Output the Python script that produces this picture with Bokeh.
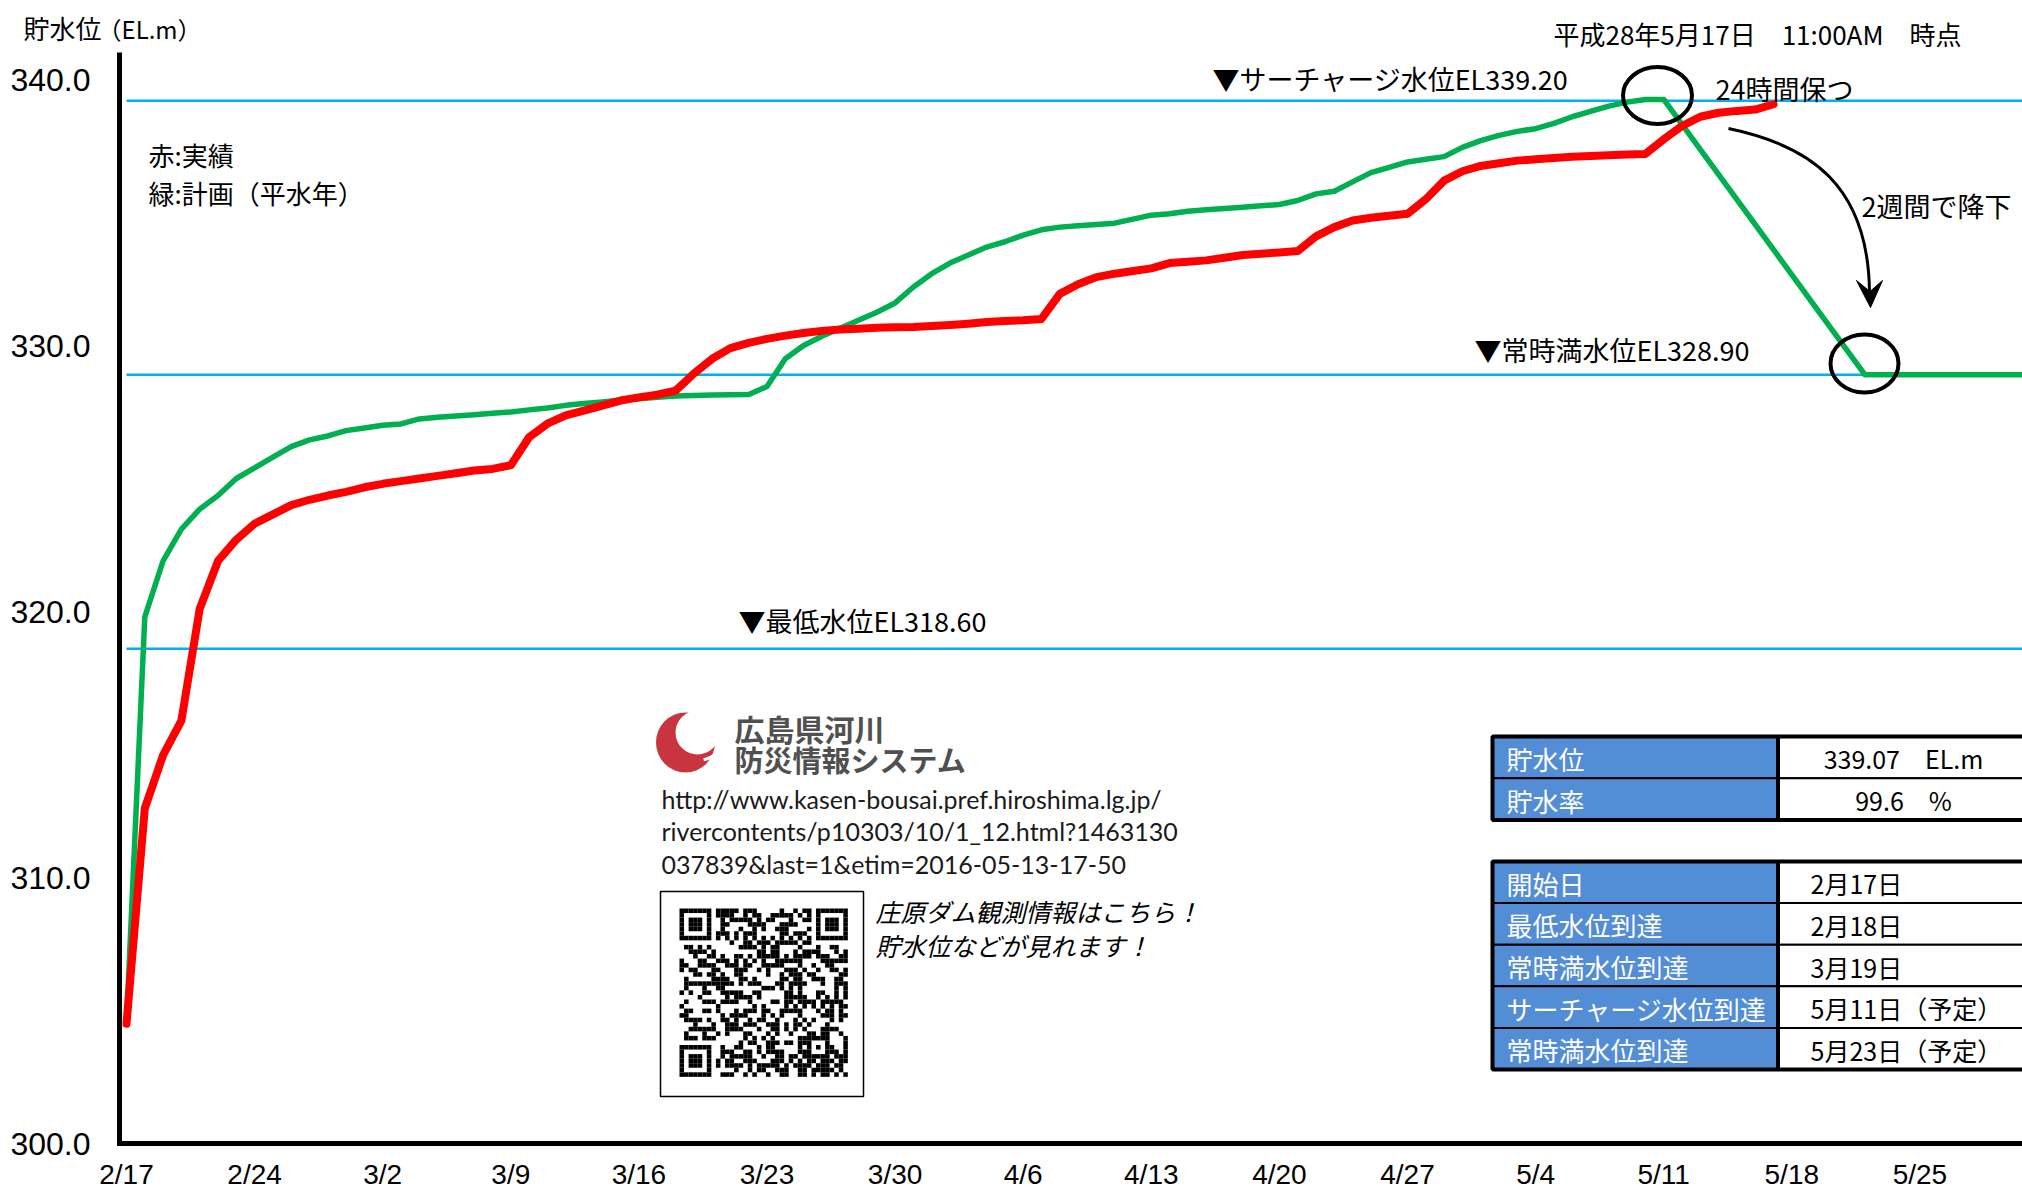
import hashlib
from bokeh.plotting import figure
from bokeh.models import Range1d, Label
from bokeh.core.properties import value
from bokeh.embed import file_html
from bokeh.resources import INLINE

# ---------------- data ----------------
tick_days = [0, 7, 14, 21, 28, 35, 42, 49, 56, 63, 70, 77, 84, 91, 98]
tick_labels = ["2/17", "2/24", "3/2", "3/9", "3/16", "3/23", "3/30", "4/6",
               "4/13", "4/20", "4/27", "5/4", "5/11", "5/18", "5/25"]
y_ticks = [300, 310, 320, 330, 340]
y_tick_labels = ["300.0", "310.0", "320.0", "330.0", "340.0"]

# planned (green) water level, days since 2/17
plan_days = list(range(0, 85)) + [95, 104]
plan_level = [304.5, 319.8, 321.9, 323.1, 323.85, 324.36, 325.0, 325.4, 325.8, 326.2,
              326.45, 326.6, 326.8, 326.9, 327.0, 327.05, 327.24, 327.3, 327.35, 327.4,
              327.45, 327.5, 327.58, 327.65, 327.75, 327.82, 327.88, 327.95, 328.0, 328.05,
              328.1, 328.12, 328.14, 328.15, 328.16, 328.46, 329.5, 330.0, 330.35, 330.65,
              330.95, 331.25, 331.6, 332.2, 332.7, 333.1, 333.4, 333.7, 333.9, 334.15,
              334.35, 334.45, 334.5, 334.55, 334.6, 334.75, 334.9, 334.95, 335.05, 335.1,
              335.15, 335.2, 335.25, 335.3, 335.45, 335.7, 335.8, 336.15, 336.5, 336.7,
              336.9, 337.0, 337.1, 337.45, 337.7, 337.9, 338.05, 338.15, 338.35, 338.6,
              338.8, 339.0, 339.15, 339.25, 339.25,
              328.9, 328.9]

# actual (red) water level
actual_days = list(range(0, 91))
actual_level = [304.5, 312.6, 314.6, 315.9, 320.1, 321.9, 322.7, 323.3, 323.65, 324.0,
                324.2, 324.36, 324.5, 324.67, 324.8, 324.9, 325.0, 325.1, 325.2, 325.3,
                325.36, 325.5, 326.55, 327.06, 327.37, 327.55, 327.74, 327.93, 328.05, 328.15,
                328.3, 328.94, 329.5, 329.9, 330.1, 330.25, 330.37, 330.47, 330.55, 330.6,
                330.63, 330.67, 330.69, 330.7, 330.73, 330.77, 330.82, 330.88, 330.92, 330.95,
                331.0, 331.94, 332.3, 332.57, 332.7, 332.8, 332.9, 333.1, 333.15, 333.2,
                333.3, 333.4, 333.45, 333.5, 333.55, 334.1, 334.45, 334.7, 334.8, 334.88,
                334.95, 335.5, 336.2, 336.55, 336.75, 336.85, 336.95, 337.0, 337.05, 337.1,
                337.12, 337.15, 337.18, 337.2, 337.75, 338.25, 338.6, 338.75, 338.82, 338.87,
                339.07]

ref_levels = [339.20, 328.90, 318.60]
ref_names = ["▼サーチャージ水位EL339.20", "▼常時満水位EL328.90", "▼最低水位EL318.60"]

table1_labels = ["貯水位", "貯水率"]
table1_values = ["339.07　EL.m", "99.6　%"]
table2_labels = ["開始日", "最低水位到達", "常時満水位到達", "サーチャージ水位到達", "常時満水位到達"]
table2_values = ["2月17日", "2月18日", "3月19日", "5月11日（予定）", "5月23日（予定）"]

url_lines = ["http://www.kasen-bousai.pref.hiroshima.lg.jp/",
             "rivercontents/p10303/10/1_12.html?1463130",
             "037839&last=1&etim=2016-05-13-17-50"]

# ---------------- layout helpers ----------------
W, H = 2022, 1192
PX_DAY, X0 = 18.3, 126.0        # px per day, x of day 0
PX_M, Y340 = 26.6, 79.0         # px per metre, y of 340 m


def dx(X):
    return (X - X0) / PX_DAY


def dy(Y):
    return 340.0 - (Y - Y340) / PX_M


def wx(px):
    return px / PX_DAY


def wy(px):
    return px / PX_M


JP = "Noto Sans CJK JP"
SANS = "Liberation Sans"

# the frame fills the whole canvas, so nothing is clipped
p = figure(width=W, height=H, output_backend="svg", toolbar_location=None,
           x_range=Range1d(dx(0), dx(W)), y_range=Range1d(dy(H), dy(0)),
           x_axis_location=None, y_axis_location=None,
           min_border=0, min_border_left=0, min_border_right=0,
           min_border_top=0, min_border_bottom=0)
p.outline_line_color = None
p.grid.visible = False
p.background_fill_color = "white"
p.border_fill_color = "white"

y_bottom = y_ticks[0]
x_axis_pos = dx(119)

# axis lines
p.segment(x0=[x_axis_pos], x1=[x_axis_pos], y0=[y_bottom - wy(2.5)], y1=[dy(52)],
          line_color="black", line_width=5)
p.segment(x0=[x_axis_pos - wx(2.5)], x1=[dx(W) + 1], y0=[y_bottom], y1=[y_bottom],
          line_color="black", line_width=5)

# tick labels
p.text(x=tick_days, y=[y_bottom] * len(tick_days), text=tick_labels,
       text_font=value(SANS), text_font_size="28px", text_align="center",
       text_baseline="middle", y_offset=31, text_color="black")
p.text(x=[x_axis_pos] * len(y_ticks), y=y_ticks, text=y_tick_labels,
       text_font=value(SANS), text_font_size="32px", text_align="right",
       text_baseline="middle", x_offset=-29, text_color="black")

# reference levels
p.segment(x0=[tick_days[0]] * 3, x1=[dx(W) + 1] * 3, y0=ref_levels, y1=ref_levels,
          line_color="#00B0F0", line_width=2.5)

# series
p.line(plan_days, plan_level, line_color="#00B050", line_width=5.5, line_join="round")
p.line(actual_days, actual_level, line_color="#FF0000", line_width=8,
       line_join="round", line_cap="round")


def lab(text, X, Y, size, align="left", font=JP, color="black", style="normal"):
    p.add_layout(Label(x=dx(X), y=dy(Y), text=text, text_font=font,
                       text_font_size=f"{size}px", text_align=align,
                       text_baseline="middle", text_color=color,
                       text_font_style=style))


# titles / notes
lab("貯水位", 23, 27, 26)
lab("（EL.m）", 97, 28, 24)
lab("平成28年5月17日　11:00AM　時点", 1553, 33, 26)
lab("赤:実績", 148, 154, 26)
lab("緑:計画（平水年）", 148, 192, 26)
lab(ref_names[0], 1212, 78, 27)
lab(ref_names[1], 1474, 349, 27)
lab(ref_names[2], 738, 620, 27)
lab("24時間保つ", 1715, 88, 27)
lab("2週間で降下", 1861, 205, 27)

# circles
p.ellipse(x=[dx(1657), dx(1864)], y=[dy(95), dy(363)], width=[wx(69), wx(68)],
          height=[wy(57), wy(58)], fill_color=None, line_color="black", line_width=4)

# curved arrow
p.bezier(x0=[dx(1728)], y0=[dy(128)], x1=[dx(1869)], y1=[dy(292)],
         cx0=[dx(1810)], cy0=[dy(145)], cx1=[dx(1868)], cy1=[dy(185)],
         line_color="black", line_width=3)
p.patch(x=[dx(1870), dx(1856), dx(1869.5), dx(1882)],
        y=[dy(307), dy(280), dy(291), dy(280)], fill_color="black", line_color="black",
        line_width=1)

# logo
p.ellipse(x=[dx(685)], y=[dy(742)], width=[wx(59)], height=[wy(60)],
          fill_color="#C8353E", line_color=None)
p.ellipse(x=[dx(697)], y=[dy(732)], width=[wx(44)], height=[wy(44)],
          fill_color="white", line_color=None)
p.arc(x=[dx(697), dx(697)], y=[dy(732), dy(732)], radius=[wx(28), wx(34)],
      start_angle=[-1.35, -1.25], end_angle=[-0.25, -0.35],
      line_color="white", line_width=3)
lab("広島県河川", 734, 727, 30, color="#505050", style="bold")
lab("防災情報システム", 734, 758, 29, color="#505050", style="bold")

for i, t in enumerate(url_lines):
    lab(t, 661, 798 + 32.5 * i, 25, font="Lato", color="#1a1a1a")

# QR code box
p.quad(left=[dx(660)], right=[dx(863)], top=[dy(891)], bottom=[dy(1096)],
       fill_color="white", line_color="black", line_width=1.5)


def qr_matrix(n, seed):
    M = [[None] * n for _ in range(n)]

    def finder(r0, c0):
        for r in range(-1, 8):
            for c in range(-1, 8):
                rr, cc = r0 + r, c0 + c
                if 0 <= rr < n and 0 <= cc < n:
                    if 0 <= r <= 6 and 0 <= c <= 6:
                        M[rr][cc] = (r in (0, 6) or c in (0, 6) or (2 <= r <= 4 and 2 <= c <= 4))
                    else:
                        M[rr][cc] = False
    finder(0, 0)
    finder(0, n - 7)
    finder(n - 7, 0)
    for i in range(8, n - 8):
        M[6][i] = (i % 2 == 0)
        M[i][6] = (i % 2 == 0)
    a = n - 7
    for r in range(-2, 3):
        for c in range(-2, 3):
            M[a + r][a + c] = (max(abs(r), abs(c)) != 1)
    bits = ""
    h = seed.encode()
    while len(bits) < n * n:
        h = hashlib.sha256(h).digest()
        bits += "".join(f"{b:08b}" for b in h)
    k = 0
    for r in range(n):
        for c in range(n):
            if M[r][c] is None:
                M[r][c] = bits[k] == "1"
            k += 1
    return M


N = 37
QM = 4.55
QX, QY = 679, 908
qm = qr_matrix(N, "".join(url_lines))
ql, qr_, qt, qb = [], [], [], []
for r in range(N):
    for c in range(N):
        if qm[r][c]:
            ql.append(dx(QX + c * QM))
            qr_.append(dx(QX + (c + 1) * QM))
            qt.append(dy(QY + r * QM))
            qb.append(dy(QY + (r + 1) * QM))
p.quad(left=ql, right=qr_, top=qt, bottom=qb, fill_color="black", line_color=None)

lab("庄原ダム観測情報はこちら！", 875, 910, 25, style="italic")
lab("貯水位などが見れます！", 875, 944, 25, style="italic")

# tables
BLUE = "#538DD5"
TL, TM, TR = 1492, 1777.5, 2030


def table(top, row_h, labels, values, value_align, value_x):
    n = len(labels)
    tops = [top + i * row_h for i in range(n)]
    bots = [t + row_h for t in tops]
    p.quad(left=[dx(TL)] * n, right=[dx(TM)] * n, top=[dy(t) for t in tops],
           bottom=[dy(b) for b in bots], fill_color=BLUE, line_color="black", line_width=2)
    p.quad(left=[dx(TM)] * n, right=[dx(TR)] * n, top=[dy(t) for t in tops],
           bottom=[dy(b) for b in bots], fill_color="white", line_color="black", line_width=2)
    p.quad(left=[dx(TL)], right=[dx(TR)], top=[dy(top)], bottom=[dy(bots[-1])],
           fill_color=None, line_color="black", line_width=4)
    p.segment(x0=[dx(TM)], x1=[dx(TM)], y0=[dy(top)], y1=[dy(bots[-1])],
              line_color="black", line_width=4)
    for i in range(n):
        yc = tops[i] + row_h / 2 + 1
        lab(labels[i], 1506, yc, 26, color="white")
        lab(values[i], value_x, yc, 25, align=value_align)


table(736, 41.8, table1_labels, table1_values, "center", 1903)
table(861, 41.6, table2_labels, table2_values, "left", 1810)

open("out.html", "w").write(file_html(p, INLINE))
